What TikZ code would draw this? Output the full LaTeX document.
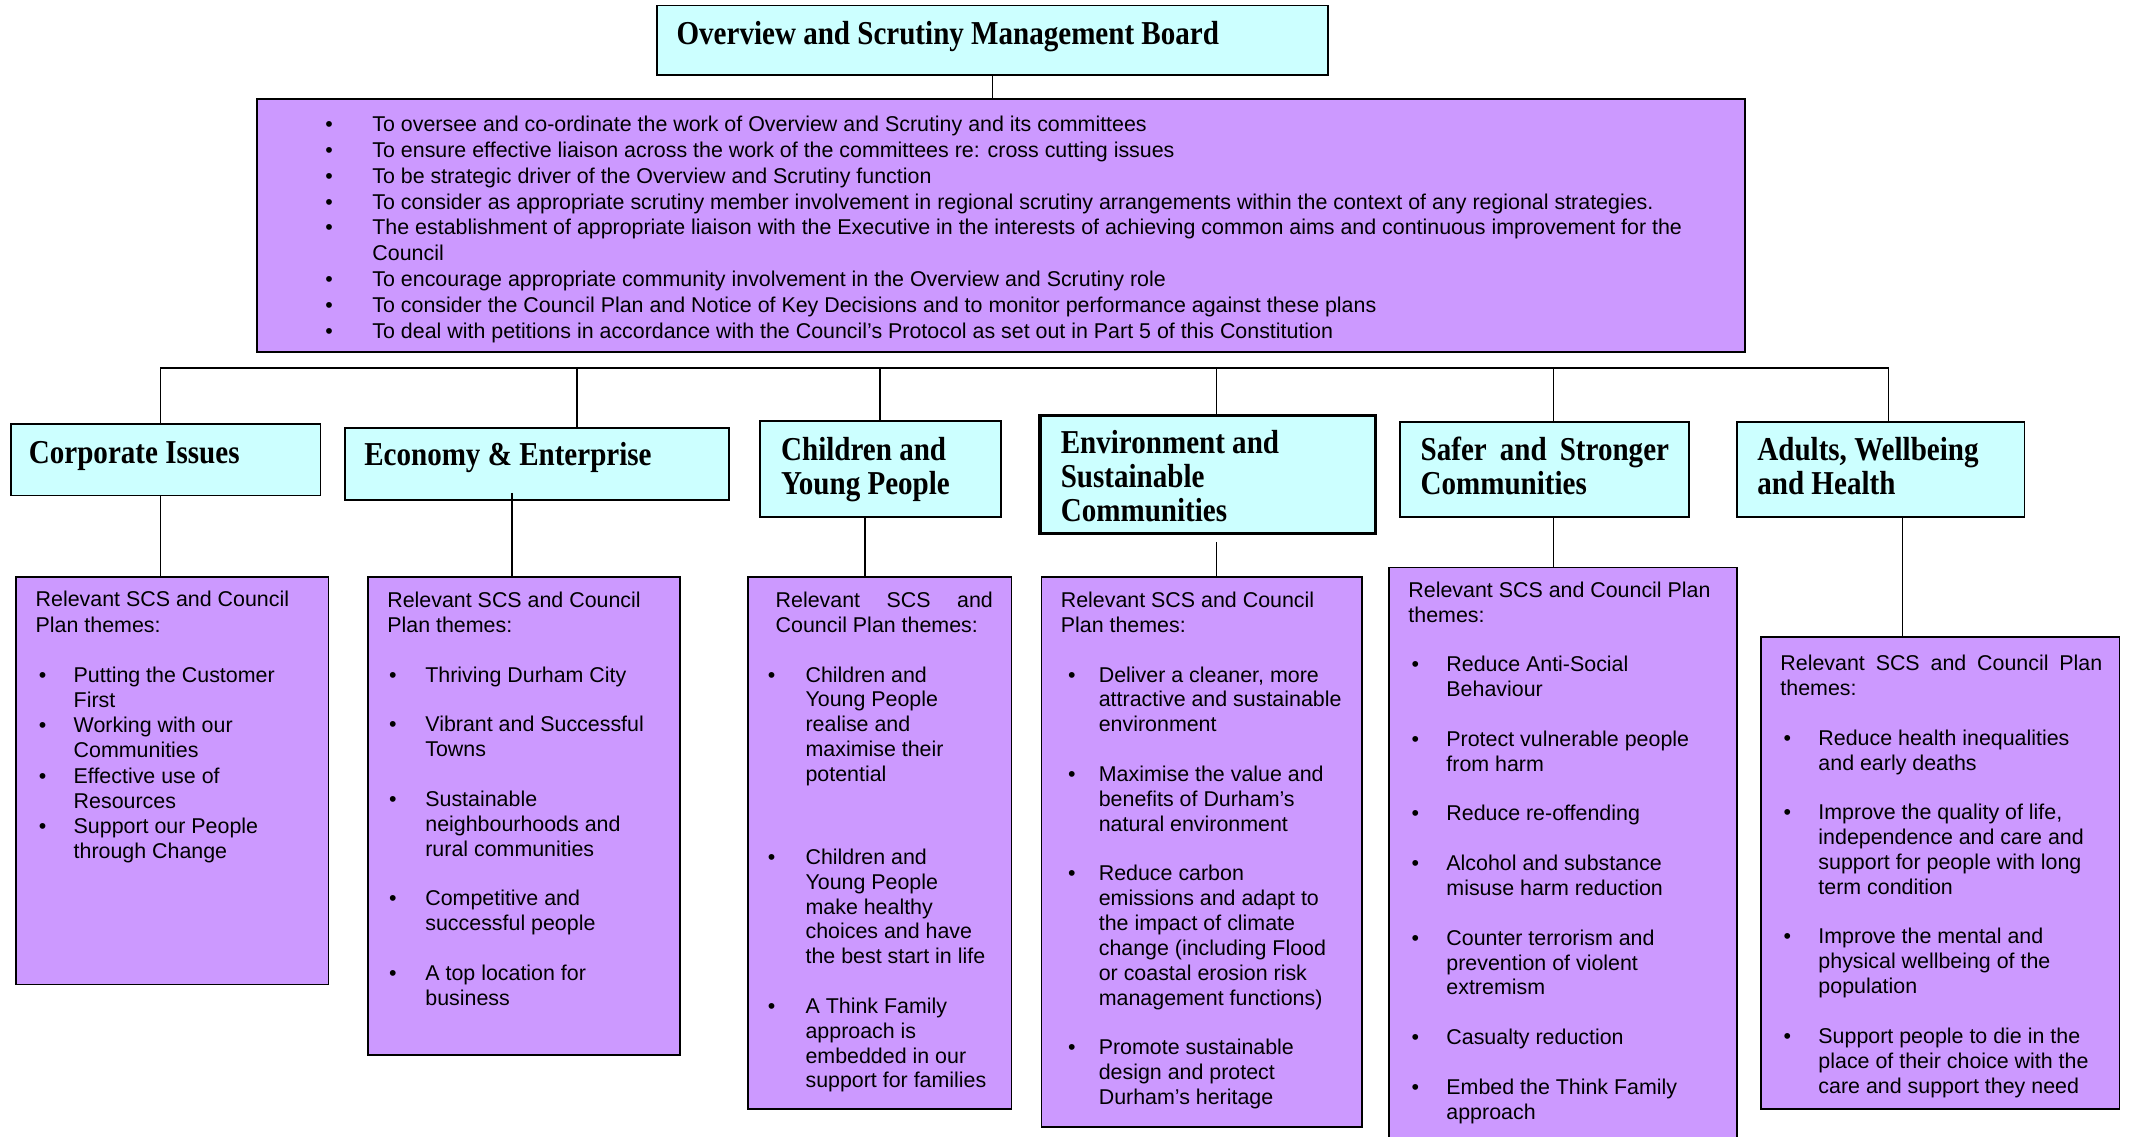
\documentclass[tikz,border=0pt]{standalone}
\usepackage{fontspec}
\setmainfont{Liberation Sans}
\newfontfamily\hdfont[FakeStretch=0.87]{Liberation Serif}
\usetikzlibrary{fit}
\definecolor{cyanbg}{HTML}{CCFFFF}
\definecolor{lilac}{HTML}{CC99FF}
\newlength\bulOff
\newlength\txtOff
\newcommand\itm[1]{\hspace*{\bulOff}\makebox[\dimexpr\txtOff-\bulOff\relax][l]{\textbullet}#1}
\newcommand\cnt[1]{\hspace*{\txtOff}#1}
\newcommand\gapline{\\[12.42pt]}
\newcommand\tb[1]{\begin{tabular}[t]{@{}l@{}}#1\end{tabular}}
\begin{document}
\begin{tikzpicture}[x=0.6789pt,y=-0.6789pt,
  hdbox/.style={draw=black, fill=cyanbg, line width=0.9pt, inner sep=0pt},
  pbox/.style={draw=black, fill=lilac, line width=0.9pt, inner sep=0pt},
  link/.style={draw=black, line width=0.7pt},
  hdtext/.style={font=\hdfont\bfseries\fontsize{16.7pt}{17pt}\selectfont, anchor=base west, inner sep=0pt},
  bodytext/.style={font=\fontsize{10.7pt}{12.42pt}\selectfont, anchor=base west, inner sep=0pt},
  toptext/.style={font=\fontsize{10.7pt}{12.9pt}\selectfont, anchor=base west, inner sep=0pt}]
\useasboundingbox (0,0) rectangle (1568,837);
\clip (0,0) rectangle (1568,837);
\fill[white] (0,0) rectangle (1568,837);

% boxes
\node[hdbox, fit={(484,4) (978,55)}] (mb) {};
\node[pbox, fit={(189,73) (1285,259)}] (pb) {};
\node[hdbox, fit={(8,312) (236,365)}] (c1) {};
\node[hdbox, fit={(254,315) (537,368)}] (c2) {};
\node[hdbox, fit={(560,310) (737,381)}] (c3) {};
\node[hdbox, line width=1.6pt, fit={(766,306) (1013,393)}] (c4) {};
\node[hdbox, fit={(1031,311) (1244,381)}] (c5) {};
\node[hdbox, fit={(1279,311) (1491,381)}] (c6) {};
\node[pbox, fit={(12,425) (242,725)}] (p1) {};
\node[pbox, fit={(271,425) (501,777)}] (p2) {};
\node[pbox, fit={(551,425) (745,817)}] (p3) {};
\node[pbox, fit={(767,425) (1003,830)}] (p4) {};
\node[pbox, fit={(1023,418) (1279,850)}] (p5) {};
\node[pbox, fit={(1297,469) (1561,817)}] (p6) {};

% connectors
\draw[link] (mb.south) -- (mb.south |- pb.north);
\coordinate (d1) at (118,271);
\coordinate (d2) at (425,271);
\coordinate (d3) at (648,271);
\coordinate (d4) at (896,271);
\coordinate (d5) at (1144,271);
\coordinate (d6) at (1391,271);
\draw[link, line width=1.2pt] (d1) -- (d6);
\draw[link] (d1) -- (d1 |- c1.north);
\draw[link] (d2) -- (d2 |- c2.north);
\draw[link] (d3) -- (d3 |- c3.north);
\draw[link] (d4) -- (d4 |- c4.north);
\draw[link] (d5) -- (d5 |- c5.north);
\draw[link] (d6) -- (d6 |- c6.north);
\coordinate (k1) at (118,365);
\coordinate (k2) at (377,363);
\coordinate (k3) at (637,381);
\coordinate (k4) at (896,399);
\coordinate (k5) at (1144,381);
\coordinate (k6) at (1401,381);
\draw[link] (k1) -- (k1 |- p1.north);
\draw[link] (k2) -- (k2 |- p2.north);
\draw[link] (k3) -- (k3 |- p3.north);
\draw[link] (k4) -- (k4 |- p4.north);
\draw[link] (k5) -- (k5 |- p5.north);
\draw[link] (k6) -- (k6 |- p6.north);

% header texts
\node[hdtext] (mbt) at (498,33) {Overview and Scrutiny Management Board};
\node[hdtext] (c1t) at (21,341) {Corporate Issues};
\node[hdtext] (c2t) at (268,343) {Economy \& Enterprise};
\node[hdtext] (c3t) at (575,339) {\tb{Children and\\Young People}};
\node[hdtext] (c4t) at (781,334) {\tb{Environment and\\Sustainable\\Communities}};
\node[hdtext] (c5t) at (1046,339) {\tb{\makebox[124.2pt][s]{Safer and Stronger}\\Communities}};
\node[hdtext] (c6t) at (1294,339) {\tb{Adults, Wellbeing\\and Health}};

% top box bullets
\global\bulOff=0pt\relax
\global\txtOff=23.56pt\relax
\node[toptext] (pbt) at (239.3,97) {\tb{%
\itm{To oversee and co-ordinate the work of Overview and Scrutiny and its committees}\\
\itm{To ensure effective liaison across the work of the committees re: cross cutting issues}\\
\itm{To be strategic driver of the Overview and Scrutiny function}\\
\itm{To consider as appropriate scrutiny member involvement in regional scrutiny arrangements within the context of any regional strategies.}\\
\itm{The establishment of appropriate liaison with the Executive in the interests of achieving common aims and continuous improvement for the}\\
\cnt{Council}\\
\itm{To encourage appropriate community involvement in the Overview and Scrutiny role}\\
\itm{To consider the Council Plan and Notice of Key Decisions and to monitor performance against these plans}\\
\itm{To deal with petitions in accordance with the Council’s Protocol as set out in Part 5 of this Constitution}}};

% box 1
\global\bulOff=1.56pt\relax
\global\txtOff=19pt\relax
\node[bodytext, font=\fontsize{10.7pt}{12.62pt}\selectfont] (p1t) at (26,447) {\tb{%
Relevant SCS and Council\\
Plan themes:\\[12.42pt]
\itm{Putting the Customer}\\
\cnt{First}\\
\itm{Working with our}\\
\cnt{Communities}\\
\itm{Effective use of}\\
\cnt{Resources}\\
\itm{Support our People}\\
\cnt{through Change}}};

% box 2
\global\bulOff=0.9pt\relax
\global\txtOff=19pt\relax
\node[bodytext] (p2t) at (285,447.5) {\tb{%
Relevant SCS and Council\\
Plan themes:\gapline
\itm{Thriving Durham City}\gapline
\itm{Vibrant and Successful}\\
\cnt{Towns}\gapline
\itm{Sustainable}\\
\cnt{neighbourhoods and}\\
\cnt{rural communities}\gapline
\itm{Competitive and}\\
\cnt{successful people}\gapline
\itm{A top location for}\\
\cnt{business}}};

% box 3
\global\bulOff=-3.87pt\relax
\global\txtOff=14.94pt\relax
\node[bodytext] (p3t) at (571,447.5) {\tb{%
\makebox[108.6pt][s]{Relevant SCS and}\\
Council Plan themes:\gapline
\itm{Children and}\\
\cnt{Young People}\\
\cnt{realise and}\\
\cnt{maximise their}\\
\cnt{potential}\\[29pt]
\itm{Children and}\\
\cnt{Young People}\\
\cnt{make healthy}\\
\cnt{choices and have}\\
\cnt{the best start in life}\gapline
\itm{A Think Family}\\
\cnt{approach is}\\
\cnt{embedded in our}\\
\cnt{support for families}}};

% box 4
\global\bulOff=3.6pt\relax
\global\txtOff=19pt\relax
\node[bodytext] (p4t) at (781,447.5) {\tb{%
Relevant SCS and Council\\
Plan themes:\gapline
\itm{Deliver a cleaner, more}\\
\cnt{attractive and sustainable}\\
\cnt{environment}\gapline
\itm{Maximise the value and}\\
\cnt{benefits of Durham’s}\\
\cnt{natural environment}\gapline
\itm{Reduce carbon}\\
\cnt{emissions and adapt to}\\
\cnt{the impact of climate}\\
\cnt{change (including Flood}\\
\cnt{or coastal erosion risk}\\
\cnt{management functions)}\gapline
\itm{Promote sustainable}\\
\cnt{design and protect}\\
\cnt{Durham’s heritage}}};

% box 5
\global\bulOff=1.56pt\relax
\global\txtOff=19pt\relax
\node[bodytext] (p5t) at (1037,440) {\tb{%
Relevant SCS and Council Plan\\
themes:\gapline
\itm{Reduce Anti-Social}\\
\cnt{Behaviour}\gapline
\itm{Protect vulnerable people}\\
\cnt{from harm}\gapline
\itm{Reduce re-offending}\gapline
\itm{Alcohol and substance}\\
\cnt{misuse harm reduction}\gapline
\itm{Counter terrorism and}\\
\cnt{prevention of violent}\\
\cnt{extremism}\gapline
\itm{Casualty reduction}\gapline
\itm{Embed the Think Family}\\
\cnt{approach}}};

% box 6
\global\bulOff=1.56pt\relax
\global\txtOff=19pt\relax
\node[bodytext] (p6t) at (1311,494) {\tb{%
\makebox[160.9pt][s]{Relevant SCS and Council Plan}\\
themes:\gapline
\itm{Reduce health inequalities}\\
\cnt{and early deaths}\gapline
\itm{Improve the quality of life,}\\
\cnt{independence and care and}\\
\cnt{support for people with long}\\
\cnt{term condition}\gapline
\itm{Improve the mental and}\\
\cnt{physical wellbeing of the}\\
\cnt{population}\gapline
\itm{Support people to die in the}\\
\cnt{place of their choice with the}\\
\cnt{care and support they need}}};
\end{tikzpicture}
\end{document}
